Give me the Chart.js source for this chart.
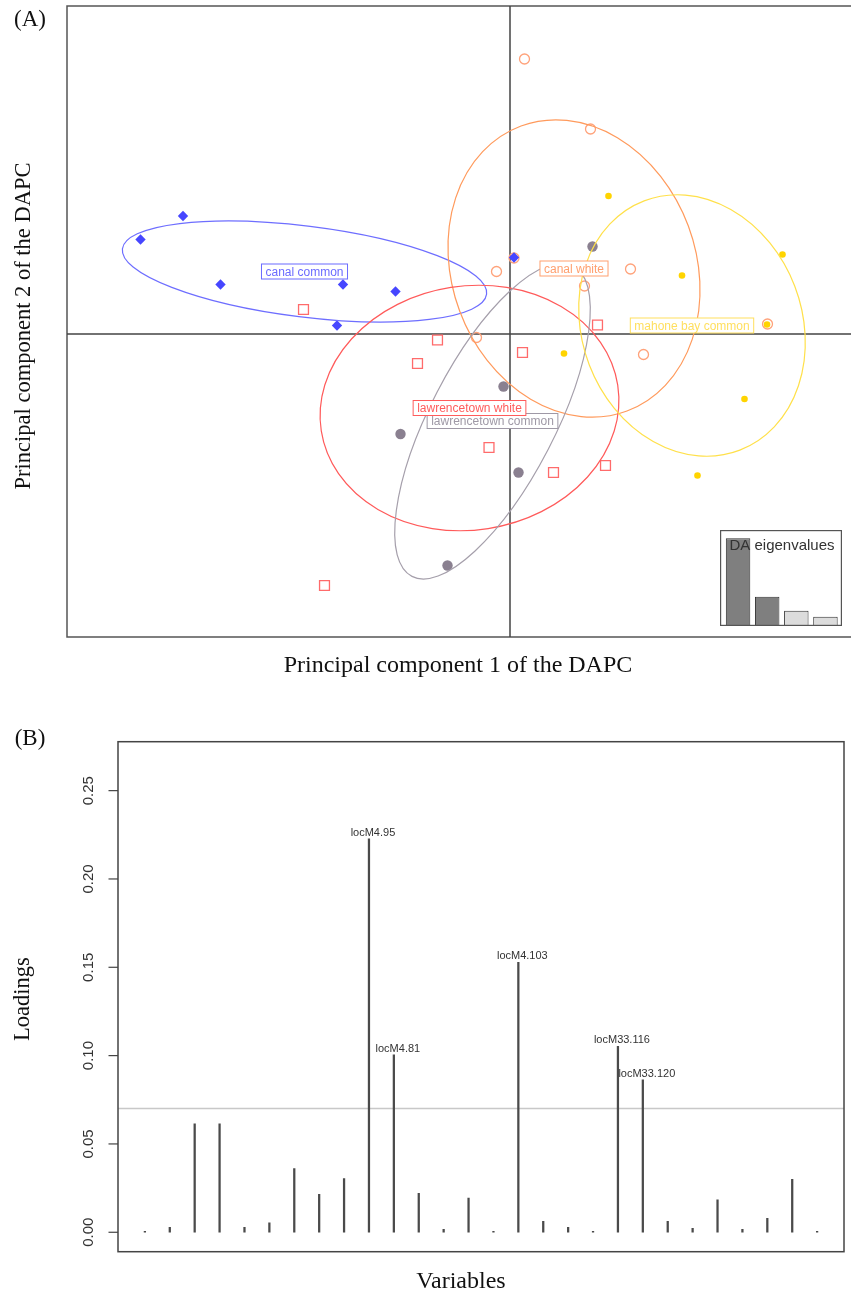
<!DOCTYPE html>
<html>
<head>
<meta charset="utf-8">
<title>DAPC scatter and loadings</title>
<script src="https://cdn.jsdelivr.net/npm/chart.js@4.4.0/dist/chart.umd.min.js"></script>
<style>
    html, body { margin: 0; padding: 0; background: #ffffff; overflow: hidden; }
    #page { position: relative; width: 851px; height: 1293px; }
    .box { position: absolute; }
    .txt {
        position: absolute;
        font-family: "Liberation Serif", "Times New Roman", serif;
        color: #111;
        white-space: nowrap;
        line-height: 1;
        transform: translate(-50%, -50%);
    }
    .rot { transform: translate(-50%, -50%) rotate(-90deg); }
</style>
</head>
<body>
<div id="page">
    <div class="box" style="left:0;top:0;width:851px;height:690px"><canvas id="scatterChart"></canvas></div>
    <div class="box" style="left:720px;top:530px;width:122px;height:96px"><canvas id="eigenChart"></canvas></div>
    <div class="box" style="left:0;top:690px;width:851px;height:603px"><canvas id="loadingChart"></canvas></div>

    <div class="txt" style="left:30px;top:18px;font-size:23px">(A)</div>
    <div class="txt" style="left:458px;top:664px;font-size:24px">Principal component 1 of the DAPC</div>
    <div class="txt rot" style="left:23px;top:326px;font-size:22.5px">Principal component 2 of the DAPC</div>

    <div class="txt" style="left:30px;top:737px;font-size:23px">(B)</div>
    <div class="txt rot" style="left:22px;top:999px;font-size:22.5px">Loadings</div>
    <div class="txt" style="left:461px;top:1280px;font-size:24px">Variables</div>
</div>

<script>
// ---- Panel A data: individual scores on DA axes 1 and 2 ----
const canalCommonX = [-6.54, -7.39, -5.79, -3.34, -2.29, -3.46, 0.08];
const canalCommonY = [2.36, 1.89, 0.99, 0.99, 0.85, 0.17, 1.53];

const canalWhiteX = [0.29, 1.61, -0.27, 2.41, 1.49, -0.67, 2.67, 5.15, 0.08];
const canalWhiteY = [5.50, 4.10, 1.25, 1.30, 0.96, -0.07, -0.41, 0.20, 1.52];

const lawWhiteX = [-4.13, -1.45, -1.85, 0.25, 1.75, -0.42, 0.87, 1.91, -3.71];
const lawWhiteY = [0.49, -0.12, -0.59, -0.37, 0.18, -2.27, -2.77, -2.63, -5.03];

const lawCommonX = [1.65, -0.13, -2.19, 0.17, -1.25];
const lawCommonY = [1.75, -1.05, -2.00, -2.77, -4.63];

const mahoneX = [1.97, 5.45, 3.44, 5.14, 1.08, 4.69, 3.75];
const mahoneY = [2.76, 1.59, 1.17, 0.19, -0.39, -1.30, -2.83];

// group ellipses (centre, semi-axes, angle in degrees) and labels
const groupNames = ['canal common', 'canal white', 'lawrencetown white', 'lawrencetown common', 'mahone bay common'];
const ellCx = [-4.11, 1.28, -0.81, -0.35, 3.64];
const ellCy = [1.25, 1.31, -1.48, -1.74, 0.17];
const ellA = [3.67, 3.04, 3.00, 3.50, 2.67];
const ellB = [0.91, 2.44, 2.44, 1.25, 2.20];
const ellAngle = [-7.1, -69.6, 8.8, 62.6, -69.0];

// DA eigenvalues (inset)
const daEigen = [87.7, 29.3, 15.3, 9.3];

// ---- Panel B data: loadings of the 28 variables ----
const loadings = [0.0005, 0.0028, 0.0614, 0.0614, 0.0028, 0.0054, 0.0360, 0.0215,
                  0.0304, 0.2227, 0.1004, 0.0221, 0.0017, 0.0193, 0.0005, 0.1528,
                  0.0062, 0.0028, 0.0005, 0.1052, 0.0863, 0.0062, 0.0023, 0.0183,
                  0.0017, 0.0079, 0.0300, 0.0005];
const varLabels = ['', '', '', '', '', '', '', '', '', 'locM4.95', 'locM4.81', '', '', '', '',
                   'locM4.103', '', '', '', 'locM33.116', 'locM33.120', '', '', '', '', '', '', ''];
const loadThreshold = 0.07;
const yTicksB = [0, 0.05, 0.10, 0.15, 0.20, 0.25];
const yTickLabelsB = ['0.00', '0.05', '0.10', '0.15', '0.20', '0.25'];

// colours per group: points, ellipse, label
const pointCols = ['#4646ff', '#ffa27a', '#ff6b6b', '#8a8090', '#ffd400'];
const ellCols = ['#6e6eff', '#ff9a5c', '#ff5a5a', '#a59fab', '#ffe04a'];
const labelCols = ['#6b6bff', '#ff9f6e', '#ff5c5c', '#9f99a6', '#ffdf5e'];

function toPoints(xs, ys) {
    return xs.map((x, i) => ({ x: x, y: ys[i] }));
}

// Frame, axes, ellipses and group labels for panel A
const scatterDecor = {
    id: 'scatterDecor',
    beforeDatasetsDraw(chart) {
        const { ctx, chartArea: a, scales: { x, y } } = chart;
        ctx.save();
        ctx.strokeStyle = '#555';
        ctx.lineWidth = 1.5;
        ctx.beginPath();
        ctx.moveTo(a.right + 2, a.top);
        ctx.lineTo(a.left, a.top);
        ctx.lineTo(a.left, a.bottom);
        ctx.lineTo(a.right + 2, a.bottom);
        ctx.stroke();
        // origin lines
        ctx.strokeStyle = '#444';
        ctx.beginPath();
        ctx.moveTo(a.left, y.getPixelForValue(0));
        ctx.lineTo(a.right, y.getPixelForValue(0));
        ctx.moveTo(x.getPixelForValue(0), a.top);
        ctx.lineTo(x.getPixelForValue(0), a.bottom);
        ctx.stroke();
        ctx.restore();
    },
    afterDatasetsDraw(chart) {
        const { ctx, scales: { x, y } } = chart;
        const kx = x.getPixelForValue(1) - x.getPixelForValue(0);
        const ky = y.getPixelForValue(0) - y.getPixelForValue(1);
        ctx.save();
        ctx.lineWidth = 1.2;
        for (let g = 0; g < groupNames.length; g++) {
            ctx.strokeStyle = ellCols[g];
            ctx.beginPath();
            ctx.ellipse(x.getPixelForValue(ellCx[g]), y.getPixelForValue(ellCy[g]),
                ellA[g] * kx, ellB[g] * ky, -ellAngle[g] * Math.PI / 180, 0, 2 * Math.PI);
            ctx.stroke();
        }
        // labels in white boxes
        ctx.font = '12px "Liberation Sans", Arial, sans-serif';
        ctx.textAlign = 'center';
        ctx.textBaseline = 'middle';
        ctx.lineWidth = 1;
        const order = [0, 1, 3, 2, 4];
        order.forEach(g => {
            const px = x.getPixelForValue(ellCx[g]);
            const py = y.getPixelForValue(ellCy[g]);
            const w = ctx.measureText(groupNames[g]).width + 8;
            const h = 15;
            ctx.fillStyle = '#ffffff';
            ctx.fillRect(px - w / 2, py - h / 2, w, h);
            ctx.strokeStyle = labelCols[g];
            ctx.strokeRect(px - w / 2, py - h / 2, w, h);
            ctx.fillStyle = labelCols[g];
            ctx.fillText(groupNames[g], px, py + 1);
        });
        ctx.restore();
    }
};

// Create DAPC scatter (panel A)
function createScatterChart() {
    const ctx = document.getElementById('scatterChart');
    return new Chart(ctx, {
        type: 'scatter',
        data: {
            datasets: [
                {
                    label: 'lawrencetown common',
                    data: toPoints(lawCommonX, lawCommonY),
                    pointStyle: 'circle',
                    pointRadius: 5.2,
                    backgroundColor: pointCols[3],
                    borderColor: pointCols[3],
                    borderWidth: 0,
                    order: 1
                },
                {
                    label: 'canal common',
                    data: toPoints(canalCommonX, canalCommonY),
                    pointStyle: 'rectRot',
                    pointRadius: 5.2,
                    backgroundColor: pointCols[0],
                    borderColor: pointCols[0],
                    borderWidth: 0,
                    order: 2
                },
                {
                    label: 'mahone bay common',
                    data: toPoints(mahoneX, mahoneY),
                    pointStyle: 'circle',
                    pointRadius: 3.3,
                    backgroundColor: pointCols[4],
                    borderColor: pointCols[4],
                    borderWidth: 0,
                    order: 3
                },
                {
                    label: 'lawrencetown white',
                    data: toPoints(lawWhiteX, lawWhiteY),
                    pointStyle: 'rect',
                    pointRadius: 7,
                    backgroundColor: 'rgba(0,0,0,0)',
                    borderColor: pointCols[2],
                    borderWidth: 1.3,
                    order: 4
                },
                {
                    label: 'canal white',
                    data: toPoints(canalWhiteX, canalWhiteY),
                    pointStyle: 'circle',
                    pointRadius: 5,
                    backgroundColor: 'rgba(0,0,0,0)',
                    borderColor: pointCols[1],
                    borderWidth: 1.3,
                    order: 5
                }
            ]
        },
        options: {
            responsive: true,
            maintainAspectRatio: false,
            animation: false,
            events: [],
            layout: { autoPadding: false, padding: { left: 67, top: 6, right: 0, bottom: 53 } },
            plugins: { legend: { display: false }, tooltip: { enabled: false } },
            scales: {
                x: { type: 'linear', min: -8.86, max: 6.82, display: false },
                y: { type: 'linear', min: -6.06, max: 6.56, display: false }
            }
        },
        plugins: [scatterDecor]
    });
}

// Inset barplot of DA eigenvalues
const eigenDecor = {
    id: 'eigenDecor',
    beforeDraw(chart) {
        const { ctx, width, height } = chart;
        ctx.save();
        ctx.fillStyle = '#ffffff';
        ctx.fillRect(0, 0, width, height);
        ctx.restore();
    },
    afterDraw(chart) {
        const { ctx, width, height } = chart;
        ctx.save();
        ctx.strokeStyle = '#555';
        ctx.lineWidth = 1.2;
        ctx.strokeRect(0.6, 0.6, width - 1.2, height - 1.2);
        ctx.fillStyle = '#333';
        ctx.font = '15px "Liberation Sans", Arial, sans-serif';
        ctx.textAlign = 'center';
        ctx.textBaseline = 'alphabetic';
        ctx.fillText('DA eigenvalues', width / 2 + 1, 19.5);
        ctx.restore();
    }
};

function createEigenChart() {
    const ctx = document.getElementById('eigenChart');
    return new Chart(ctx, {
        type: 'bar',
        data: {
            labels: daEigen.map((v, i) => String(i + 1)),
            datasets: [{
                data: daEigen,
                backgroundColor: ['#7f7f7f', '#7f7f7f', '#dcdcdc', '#dcdcdc'],
                borderColor: '#333',
                borderWidth: 1,
                categoryPercentage: 0.84,
                barPercentage: 1.0
            }]
        },
        options: {
            responsive: true,
            maintainAspectRatio: false,
            animation: false,
            events: [],
            layout: { autoPadding: false, padding: { left: 3.5, right: 2, top: 0, bottom: 0 } },
            plugins: { legend: { display: false }, tooltip: { enabled: false } },
            scales: {
                x: { display: false },
                y: { display: false, min: 0, max: Math.max(...daEigen) * 1.095 }
            }
        },
        plugins: [eigenDecor]
    });
}

// Threshold, frame, y axis and variable labels for panel B
const loadingDecor = {
    id: 'loadingDecor',
    beforeDatasetsDraw(chart) {
        const { ctx, chartArea: a, scales: { y } } = chart;
        ctx.save();
        ctx.strokeStyle = '#c8c8c8';
        ctx.lineWidth = 1.5;
        ctx.beginPath();
        ctx.moveTo(a.left, y.getPixelForValue(loadThreshold));
        ctx.lineTo(a.right, y.getPixelForValue(loadThreshold));
        ctx.stroke();
        ctx.restore();
    },
    afterDatasetsDraw(chart) {
        const { ctx, chartArea: a, scales: { x, y } } = chart;
        ctx.save();
        ctx.strokeStyle = '#444';
        ctx.lineWidth = 1.5;
        ctx.strokeRect(a.left, a.top, a.right - a.left, a.bottom - a.top);

        // y ticks, labels rotated like R las=0
        ctx.lineWidth = 1.2;
        ctx.fillStyle = '#333';
        ctx.font = '15px "Liberation Sans", Arial, sans-serif';
        ctx.textAlign = 'center';
        ctx.textBaseline = 'middle';
        yTicksB.forEach((v, i) => {
            const py = y.getPixelForValue(v);
            ctx.beginPath();
            ctx.moveTo(a.left - 9.5, py);
            ctx.lineTo(a.left, py);
            ctx.stroke();
            ctx.save();
            ctx.translate(a.left - 29, py);
            ctx.rotate(-Math.PI / 2);
            ctx.fillText(yTickLabelsB[i], 0, 0);
            ctx.restore();
        });

        // names of variables above the threshold
        ctx.font = '11px "Liberation Sans", Arial, sans-serif';
        ctx.textBaseline = 'alphabetic';
        ctx.fillStyle = '#333';
        loadings.forEach((v, i) => {
            if (!varLabels[i]) return;
            ctx.fillText(varLabels[i], x.getPixelForValue(i + 1) + 4, y.getPixelForValue(v) - 3);
        });
        ctx.restore();
    }
};

// Create loading plot (panel B)
function createLoadingChart() {
    const ctx = document.getElementById('loadingChart');
    return new Chart(ctx, {
        type: 'bar',
        data: {
            datasets: [{
                data: loadings.map((v, i) => ({ x: i + 1, y: v })),
                backgroundColor: '#4a4a4a',
                borderWidth: 0,
                barThickness: 1.6
            }]
        },
        options: {
            responsive: true,
            maintainAspectRatio: false,
            animation: false,
            events: [],
            layout: { autoPadding: false, padding: { left: 118, top: 51.7, right: 7, bottom: 41.3 } },
            plugins: { legend: { display: false }, tooltip: { enabled: false } },
            scales: {
                x: { type: 'linear', offset: false, min: -0.08, max: 29.08, display: false },
                y: { type: 'linear', min: -0.011, max: 0.2777, display: false }
            }
        },
        plugins: [loadingDecor]
    });
}

createScatterChart();
createEigenChart();
createLoadingChart();
</script>
</body>
</html>
